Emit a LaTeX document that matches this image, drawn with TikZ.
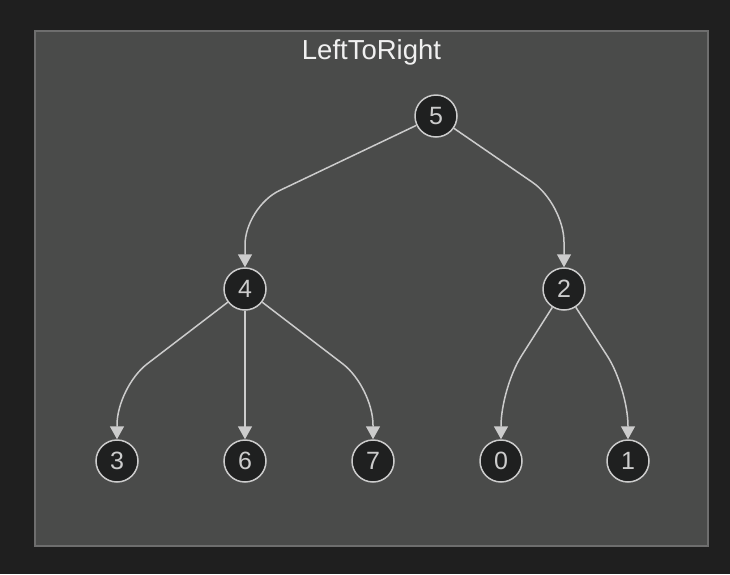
\documentclass[tikz,border=0pt]{standalone}
\usepackage{fontspec}
\setmainfont{Liberation Sans}
\usetikzlibrary{arrows.meta}
\definecolor{bgdark}{HTML}{1F1F1F}
\definecolor{panel}{HTML}{4A4B4A}
\definecolor{panelline}{HTML}{6E6E6E}
\definecolor{nodefill}{HTML}{1F2020}
\definecolor{edgecol}{HTML}{CCCCCC}
\definecolor{titlecol}{HTML}{F0F0F0}
\tikzset{
  treenode/.style={circle, draw=edgecol, line width=1.5pt, fill=nodefill,
    minimum size=42pt, inner sep=0pt, text=edgecol,
    font=\fontsize{25}{28}\selectfont},
  edge/.style={draw=edgecol, line width=1.5pt, rounded corners=38pt,
    -{Triangle[width=14pt,length=13pt]}},
}
\begin{document}
\begin{tikzpicture}[x=1pt,y=-1pt]
  \fill[bgdark] (0,0) rectangle (730,574);
  \useasboundingbox (0,0) rectangle (730,574);
  \draw[panelline, fill=panel, line width=2pt] (35,31) rectangle (708,546);
  \node[text=titlecol, font=\fontsize{27.5}{31}\selectfont] (title) at (371.5,52) {LeftToRight};
  \node[treenode] (n5) at (436,116) {5};
  \node[treenode] (n4) at (245,289) {4};
  \node[treenode] (n2) at (564,289) {2};
  \node[treenode] (n3) at (117,461) {3};
  \node[treenode] (n6) at (245,461) {6};
  \node[treenode] (n7) at (373,461) {7};
  \node[treenode] (n0) at (501,461) {0};
  \node[treenode] (n1) at (628,461) {1};
  \coordinate (c54) at (245,207);
  \coordinate (c52) at (564,204);
  \coordinate (c43) at (117,387);
  \coordinate (c47) at (373,387);
  \coordinate (c20) at (501,388);
  \coordinate (c21) at (628,388);
  \draw[edge] (n5) -- (c54) -- (n4);
  \draw[edge] (n5) -- (c52) -- (n2);
  \draw[edge] (n4) -- (c43) -- (n3);
  \draw[edge] (n4) -- (n6);
  \draw[edge] (n4) -- (c47) -- (n7);
  \draw[edge] (n2) -- (c20) -- (n0);
  \draw[edge] (n2) -- (c21) -- (n1);
\end{tikzpicture}
\end{document}
